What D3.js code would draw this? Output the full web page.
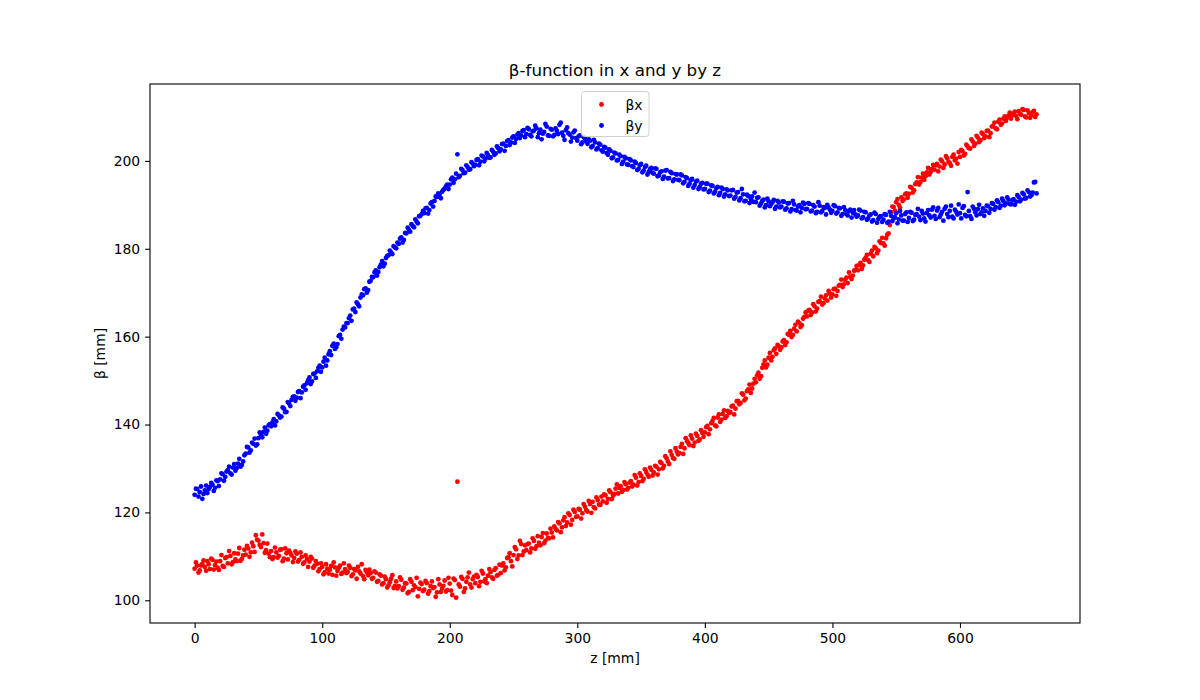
<!DOCTYPE html>
<html>
<head>
<meta charset="utf-8">
<script src="https://cdn.jsdelivr.net/npm/d3@7"></script>
<style>
  body { margin: 0; background: #fff; }
  text { font-family: "DejaVu Sans", sans-serif; }
</style>
</head>
<body>
<script>
// beta-x and beta-y.
// "Even" arrays: z = 0, 2, 4 ... 660 ; "Odd" arrays: z = 1, 3, 5 ... 659
const zStep = 2;

const betaXEven = [
  107.2, 107.9, 106.8, 108.3, 107.6, 108.9, 107.1, 109.2, 108.0, 107.4,
  108.9, 107.8, 109.6, 108.4, 110.1, 108.7, 109.3, 110.6, 109.0, 110.2,
  110.4, 111.8, 110.9, 112.3, 114.8, 113.6, 112.1, 113.0, 111.4, 110.6,
  111.2, 109.8, 110.9, 110.1, 111.6, 109.5, 110.7, 111.3, 110.2, 109.6,
  110.6, 109.2, 109.9, 108.6, 109.4, 108.8, 109.5, 107.9, 108.3, 107.1,
  107.6, 106.4, 107.2, 106.9, 105.8, 107.5, 106.7, 107.9, 106.3, 107.1,
  106.5, 107.4, 105.9, 106.8, 107.6, 106.1, 105.5, 106.9, 105.7, 106.2,
  105.1, 106.3, 104.4, 105.6, 103.9, 104.8, 103.4, 104.9, 102.8, 104.3,
  103.2, 104.7, 102.9, 103.8, 101.9, 104.2, 103.4, 105.1, 102.6, 103.7,
  102.4, 103.9, 102.1, 104.3, 103.0, 101.8, 103.6, 102.7, 104.5, 102.3,
  103.8, 101.2, 104.6, 127.0, 103.1, 104.9, 102.7, 105.2, 103.6, 104.8,
  103.9, 105.3, 104.2, 106.1, 104.8, 105.6, 106.4, 104.9, 107.3, 105.8,
  106.2, 108.4, 107.5, 109.8, 108.9, 110.3, 111.6, 110.2, 112.8, 111.1,
  111.4, 112.9, 111.8, 113.5, 112.3, 113.1, 114.4, 113.0, 115.2, 114.1,
  115.4, 116.8, 115.9, 117.5, 116.6, 118.9, 117.7, 119.4, 118.3, 120.1,
  119.1, 120.6, 119.8, 121.3, 120.2, 121.9, 122.4, 120.9, 122.8, 121.7,
  122.5, 123.9, 123.1, 124.6, 123.8, 125.4, 124.3, 126.0, 125.1, 126.4,
  125.6, 127.1, 126.3, 127.9, 126.9, 128.3, 127.6, 129.2, 128.1, 129.7,
  129.1, 130.4, 129.8, 131.2, 130.6, 132.3, 131.0, 133.1, 132.2, 133.8,
  133.5, 135.6, 134.6, 136.2, 135.3, 136.8, 135.9, 137.4, 136.6, 138.1,
  138.2, 139.7, 138.9, 140.8, 139.8, 141.6, 140.6, 142.4, 141.5, 143.1,
  142.8, 144.3, 143.6, 145.4, 144.9, 146.8, 145.9, 148.0, 147.2, 149.3,
  149.6, 151.8, 151.0, 153.7, 153.0, 155.2, 154.6, 156.9, 156.1, 157.8,
  157.6, 159.2, 158.7, 160.4, 159.9, 161.8, 161.2, 163.1, 162.6, 164.5,
  164.6, 166.1, 165.5, 166.9, 166.4, 168.1, 167.3, 168.7, 168.2, 169.8,
  169.6, 170.9, 170.4, 171.8, 171.3, 172.9, 172.2, 173.6, 173.9, 175.2,
  175.1, 176.8, 176.2, 177.9, 177.4, 178.9, 178.3, 180.1, 179.6, 181.3,
  181.2, 182.4, 183.5, 188.3, 189.5, 190.6, 190.0, 191.7, 191.2, 192.6,
  192.5, 193.9, 193.3, 195.1, 194.6, 196.2, 195.7, 197.4, 196.9, 198.2,
  198.0, 199.3, 198.7, 199.9, 199.2, 200.6, 199.5, 200.9, 200.1, 199.4,
  200.9, 202.2, 201.6, 203.3, 202.8, 204.4, 203.9, 205.3, 204.7, 206.1,
  205.6, 206.9, 206.3, 207.9, 207.4, 208.9, 208.2, 209.6, 209.1, 210.3,
  209.6, 210.8, 210.2, 211.3, 210.5, 211.6, 209.9, 210.9, 210.4, 211.4,
  210.6
];

const betaXOdd = [
  108.6, 106.3, 107.9, 109.1, 106.7, 108.2, 109.5, 107.0, 108.8, 106.9,
  110.3, 107.6, 109.8, 111.2, 108.2, 110.7, 108.9, 111.9, 109.4, 111.5,
  112.4, 109.9, 113.1, 111.0, 113.8, 112.6, 115.0, 110.8, 112.9, 109.8,
  109.4, 112.0, 109.7, 111.5, 108.9, 111.8, 109.3, 110.8, 108.7, 111.1,
  108.8, 110.9, 108.3, 110.2, 107.6, 109.9, 107.4, 108.9, 106.6, 108.4,
  105.9, 108.2, 106.1, 107.8, 108.6, 105.6, 107.4, 106.0, 108.4, 106.2,
  107.9, 105.5, 107.1, 104.9, 106.6, 108.2, 104.8, 106.4, 107.0, 104.9,
  106.6, 104.2, 105.9, 103.6, 105.4, 102.9, 104.1, 105.7, 103.3, 102.7,
  105.2, 102.4, 103.9, 101.6, 104.8, 102.3, 103.0, 100.9, 104.0, 102.1,
  104.4, 101.5, 103.2, 102.8, 100.8, 104.8, 101.9, 103.3, 102.0, 105.1,
  102.2, 104.9, 100.6, 103.6, 105.3, 101.9, 104.2, 106.3, 102.9, 105.4,
  105.8, 103.2, 106.7, 104.3, 103.9, 107.1, 105.2, 106.9, 105.6, 108.1,
  107.9, 106.8, 109.6, 110.7, 107.7, 112.1, 109.4, 113.5, 110.3, 112.5,
  112.8, 110.9, 114.1, 111.7, 114.6, 112.5, 115.3, 113.6, 114.2, 116.3,
  114.3, 116.2, 117.8, 115.5, 118.2, 116.9, 119.8, 117.2, 120.6, 119.0,
  120.8, 118.6, 121.9, 120.5, 122.6, 119.9, 121.2, 123.4, 121.8, 123.6,
  124.1, 122.2, 125.0, 123.0, 124.2, 126.4, 125.6, 124.7, 126.9, 125.2,
  126.8, 125.9, 128.5, 126.1, 128.9, 127.1, 129.8, 128.6, 130.2, 128.4,
  130.6, 128.6, 131.5, 130.0, 132.8, 131.6, 133.9, 132.4, 134.6, 133.2,
  134.9, 133.3, 136.9, 135.8, 137.5, 135.1, 137.9, 136.3, 138.7, 137.2,
  139.4, 137.8, 140.3, 141.5, 139.6, 142.3, 141.1, 143.2, 141.9, 142.6,
  144.1, 142.3, 145.3, 144.6, 147.1, 145.5, 147.6, 149.1, 148.2, 150.4,
  151.2, 150.4, 152.9, 154.6, 153.6, 156.3, 155.4, 157.3, 158.1, 157.0,
  158.9, 158.1, 160.6, 161.3, 160.4, 162.7, 163.4, 162.2, 164.1, 165.5,
  165.9, 164.9, 167.4, 165.7, 167.9, 169.1, 167.6, 169.4, 170.4, 168.9,
  170.8, 169.3, 171.6, 173.0, 171.9, 173.4, 174.6, 173.1, 175.0, 176.1,
  176.3, 175.4, 177.5, 178.6, 177.0, 179.6, 180.4, 179.0, 181.7, 182.5,
  180.7, 183.2, 185.4, 189.6, 188.7, 191.3, 189.4, 190.9, 192.4, 191.6,
  194.1, 192.8, 194.7, 196.3, 195.2, 197.1, 196.5, 198.4, 197.5, 199.1,
  199.0, 197.6, 200.3, 198.4, 201.1, 199.8, 198.9, 201.4, 200.5, 202.0,
  202.5, 201.2, 203.7, 202.9, 204.9, 203.4, 205.7, 204.3, 206.4, 205.2,
  206.8, 205.4, 207.8, 208.7, 207.2, 209.4, 208.5, 210.1, 209.8, 211.0,
  210.4, 211.2, 209.5, 210.7, 211.8, 210.1, 211.5, 209.8, 211.1, 210.0
];

const betaYEven = [
  124.0, 125.3, 124.6, 123.1, 125.0, 124.4, 125.8, 126.3, 125.6, 127.1,
  127.5, 128.7, 128.1, 129.6, 128.9, 130.2, 129.5, 131.1, 130.4, 131.6,
  133.4, 134.8, 134.1, 135.6, 135.2, 136.9, 137.6, 138.3, 137.9, 139.8,
  139.6, 141.2, 140.7, 142.1, 141.8, 143.6, 142.9, 144.8, 145.6, 146.4,
  146.1, 147.6, 147.3, 148.9, 149.4, 150.7, 149.8, 151.6, 152.1, 153.4,
  153.0, 155.2, 154.6, 156.7, 157.9, 157.2, 158.3, 160.4, 161.6, 162.1,
  163.1, 164.8, 166.2, 165.6, 167.4, 168.9, 169.4, 171.0, 170.6, 172.7,
  173.5, 175.1, 174.7, 176.4, 176.0, 177.9, 178.5, 179.2, 180.6, 180.1,
  181.1, 182.6, 182.0, 183.5, 184.3, 185.6, 184.9, 186.2, 187.4, 187.9,
  188.1, 189.3, 188.8, 190.6, 190.9, 191.8, 192.3, 193.0, 193.7, 194.6,
  194.6, 196.2, 195.8, 201.5, 196.6, 197.9, 197.3, 198.6, 198.1, 199.4,
  199.1, 200.4, 199.8, 201.0, 200.5, 201.3, 200.8, 202.1, 201.7, 202.9,
  202.6, 203.9, 203.4, 204.7, 204.2, 205.6, 205.0, 206.3, 205.8, 207.0,
  206.1, 207.2, 205.6, 206.9, 207.4, 206.3, 204.9, 206.6, 207.8, 205.7,
  207.1, 205.9, 206.8, 208.2, 206.4, 204.8, 207.6, 206.0, 205.3, 206.9,
  204.6, 205.8, 204.2, 205.1, 203.9, 204.6, 203.4, 204.2, 202.9, 203.7,
  202.1, 203.0, 201.4, 202.3, 200.8, 201.7, 200.2, 201.1, 199.8, 200.6,
  199.1, 200.1, 198.6, 199.5, 198.2, 199.3, 197.8, 198.9, 197.5, 198.4,
  197.1, 198.2, 196.7, 197.6, 196.4, 197.9, 196.1, 197.2, 195.8, 196.9,
  195.6, 196.7, 195.2, 196.1, 194.8, 195.9, 194.5, 195.5, 194.1, 195.0,
  193.6, 194.8, 193.2, 194.3, 193.0, 194.1, 192.7, 193.6, 192.4, 193.3,
  192.1, 193.4, 191.8, 192.9, 191.5, 192.4, 190.9, 192.0, 191.3, 190.7,
  190.6, 191.7, 190.3, 191.2, 189.9, 190.8, 190.2, 191.1, 189.6, 190.5,
  189.6, 190.7, 189.2, 190.4, 189.0, 190.1, 188.7, 189.9, 189.3, 190.2,
  189.1, 190.2, 188.7, 189.6, 188.4, 189.8, 188.6, 189.3, 190.0, 188.9,
  188.6, 189.7, 188.3, 189.2, 187.9, 188.8, 187.6, 188.9, 188.2, 187.8,
  187.6, 188.7, 187.2, 188.3, 186.9, 187.8, 186.5, 187.9, 186.8, 187.4,
  186.6, 187.7, 186.2, 187.5, 186.9, 188.1, 186.7, 187.6, 186.4, 188.3,
  187.0, 188.2, 186.6, 187.9, 187.3, 188.6, 186.9, 188.1, 187.6, 188.9,
  187.5, 188.7, 187.2, 188.4, 189.1, 187.9, 188.6, 187.3, 188.9, 187.8,
  188.1, 189.3, 187.7, 192.9, 187.4, 189.6, 188.3, 189.0, 187.9, 189.2,
  188.6, 189.7, 189.1, 190.2, 189.5, 190.6, 189.8, 190.9, 190.3, 191.2,
  190.1, 191.3, 190.7, 191.8, 191.2, 192.4, 191.6, 192.9, 192.2, 195.1,
  192.6
];

const betaYOdd = [
  125.4, 123.6, 125.9, 124.2, 126.1, 125.3, 126.7, 124.9, 127.3, 126.0,
  128.9, 127.2, 129.3, 130.4, 128.6, 131.0, 130.1, 132.2, 130.8, 133.0,
  134.9, 133.6, 135.9, 136.8, 135.5, 138.2, 137.1, 139.3, 138.6, 140.1,
  140.5, 139.8, 142.4, 141.6, 143.9, 142.8, 145.1, 144.2, 146.3, 145.4,
  147.4, 146.0, 148.6, 147.9, 150.1, 149.2, 151.5, 150.6, 152.9, 152.0,
  154.3, 153.4, 156.0, 155.8, 158.4, 157.6, 160.1, 159.5, 162.3, 163.1,
  164.2, 163.6, 166.4, 167.8, 166.9, 169.6, 170.8, 170.0, 172.5, 173.6,
  174.6, 173.9, 175.8, 177.2, 176.6, 178.4, 179.6, 178.8, 180.3, 181.4,
  182.3, 181.4, 183.6, 184.8, 183.9, 185.2, 186.7, 185.8, 187.5, 188.6,
  189.2, 188.0, 190.3, 189.6, 191.9, 192.6, 191.5, 193.4, 194.2, 193.6,
  195.8, 195.0, 197.1, 196.3, 198.2, 197.2, 199.0, 198.0, 199.7, 198.8,
  200.2, 199.0, 201.2, 199.9, 201.8, 200.7, 202.5, 201.4, 203.3, 202.2,
  203.8, 202.3, 204.5, 203.6, 205.3, 204.1, 206.0, 205.2, 206.8, 205.4,
  207.5, 205.9, 206.7, 208.0, 205.4, 207.1, 206.2, 208.4, 205.8, 207.3,
  205.6, 207.4, 206.1, 208.7, 205.7, 207.0, 206.3, 204.4, 206.5, 205.2,
  205.6, 203.8, 205.4, 204.5, 204.9, 203.1, 204.8, 202.6, 203.9, 202.4,
  203.2, 201.8, 202.6, 200.6, 201.9, 200.1, 201.4, 199.3, 200.9, 199.2,
  200.4, 198.8, 199.8, 197.9, 199.0, 197.4, 198.6, 196.9, 198.1, 197.3,
  198.3, 196.5, 197.4, 195.9, 197.8, 196.0, 197.5, 195.4, 197.0, 195.7,
  196.9, 194.9, 196.3, 194.3, 195.6, 193.9, 195.3, 193.6, 194.8, 193.5,
  194.8, 192.9, 194.4, 192.6, 193.8, 192.2, 193.9, 191.9, 193.5, 192.0,
  193.3, 191.4, 192.8, 191.0, 193.6, 190.8, 192.3, 190.4, 191.9, 192.8,
  191.6, 189.8, 190.9, 189.4, 191.4, 189.7, 190.6, 189.1, 190.9, 189.4,
  190.8, 188.9, 190.3, 188.5, 190.9, 188.8, 189.6, 188.3, 190.5, 189.0,
  190.4, 188.5, 189.9, 188.1, 190.6, 188.3, 189.5, 187.8, 189.4, 188.2,
  189.9, 188.0, 189.3, 187.5, 189.5, 187.9, 188.6, 187.1, 188.8, 187.3,
  188.9, 186.9, 188.4, 186.6, 187.6, 186.2, 188.2, 185.9, 187.3, 186.1,
  187.9, 185.9, 188.4, 186.3, 187.2, 185.8, 188.6, 186.4, 187.9, 186.1,
  188.4, 186.3, 187.7, 189.1, 186.5, 188.0, 186.2, 188.8, 187.1, 189.4,
  186.8, 189.3, 187.8, 186.4, 189.6, 187.2, 189.8, 186.9, 188.4, 190.1,
  186.9, 189.7, 187.4, 188.6, 186.8, 189.1, 187.6, 190.0, 188.3, 187.5,
  189.8, 188.2, 190.4, 188.9, 191.0, 189.3, 191.4, 189.9, 191.7, 190.2,
  191.0, 190.0, 192.2, 190.8, 192.7, 191.4, 193.3, 191.9, 192.8, 195.2
];

const xTicks = [0, 100, 200, 300, 400, 500, 600];
const yTicks = [100, 120, 140, 160, 180, 200];
const seriesNames = ["βx", "βy"];
const seriesColors = ["red", "blue"];

const W = 1200, H = 700;
const margin = { top: 84, right: 120, bottom: 77, left: 150 },
    width = W - margin.left - margin.right,
    height = H - margin.top - margin.bottom;

const svg = d3.select('body').append('svg')
    .attr('width', W)
    .attr('height', H);

const g = svg.append('g')
    .attr('transform', `translate(${margin.left}, ${margin.top})`);

const x = d3.scaleLinear().domain([-35, 694.1]).range([0, width]);
const y = d3.scaleLinear().domain([94.83, 217.5]).range([height, 0]);

const toPoints = (even, odd) =>
    even.map((v, i) => ({ z: i * zStep, v: v }))
        .concat(odd.map((v, i) => ({ z: i * zStep + 1, v: v })));

const series = [toPoints(betaXEven, betaXOdd), toPoints(betaYEven, betaYOdd)];

// points: βx first, βy on top
series.forEach((pts, s) => {
  g.append("g")
    .selectAll("circle")
    .data(pts)
    .enter()
    .append("circle")
      .attr("cx", d => x(d.z))
      .attr("cy", d => y(d.v))
      .attr("r", 2.4)
      .attr("fill", seriesColors[s]);
});

// axes
const xAxis = d3.axisBottom(x).tickValues(xTicks).tickSize(4.9).tickPadding(4.9).tickSizeOuter(0);
const yAxis = d3.axisLeft(y).tickValues(yTicks).tickSize(4.9).tickPadding(4.9).tickSizeOuter(0);

const gx = g.append("g").attr("transform", `translate(0, ${height})`).call(xAxis);
const gy = g.append("g").call(yAxis);
[gx, gy].forEach(a => {
  a.select(".domain").remove();
  a.selectAll("line").attr("stroke", "#000").attr("stroke-width", 1.1);
  a.selectAll("text").attr("font-size", 13.9).attr("fill", "#000")
    .attr("font-family", "DejaVu Sans, sans-serif");
});

// frame
g.append("rect")
    .attr("width", width)
    .attr("height", height)
    .attr("fill", "none")
    .attr("stroke", "#000")
    .attr("stroke-width", 1.1);

// title and labels
svg.append("text")
    .attr("x", margin.left + width / 2)
    .attr("y", margin.top - 8)
    .attr("text-anchor", "middle")
    .attr("font-size", 16.7)
    .text("β-function in x and y by z");

svg.append("text")
    .attr("x", margin.left + width / 2)
    .attr("y", 663)
    .attr("text-anchor", "middle")
    .attr("font-size", 13.9)
    .text("z [mm]");

svg.append("text")
    .attr("transform", `translate(105, ${margin.top + height / 2}) rotate(-90)`)
    .attr("text-anchor", "middle")
    .attr("font-size", 13.9)
    .text("β [mm]");

// legend
const legend = svg.append("g").attr("transform", "translate(581.5, 91.5)");
legend.append("rect")
    .attr("width", 67.5)
    .attr("height", 45)
    .attr("rx", 3)
    .attr("fill", "white")
    .attr("fill-opacity", 0.8)
    .attr("stroke", "#d0d0d0")
    .attr("stroke-width", 1);

seriesNames.forEach((name, i) => {
  legend.append("circle")
      .attr("cx", 20)
      .attr("cy", 13 + i * 21)
      .attr("r", 2.4)
      .attr("fill", seriesColors[i]);
  legend.append("text")
      .attr("x", 44)
      .attr("y", 18 + i * 21)
      .attr("font-size", 13.9)
      .text(name);
});
</script>
</body>
</html>
